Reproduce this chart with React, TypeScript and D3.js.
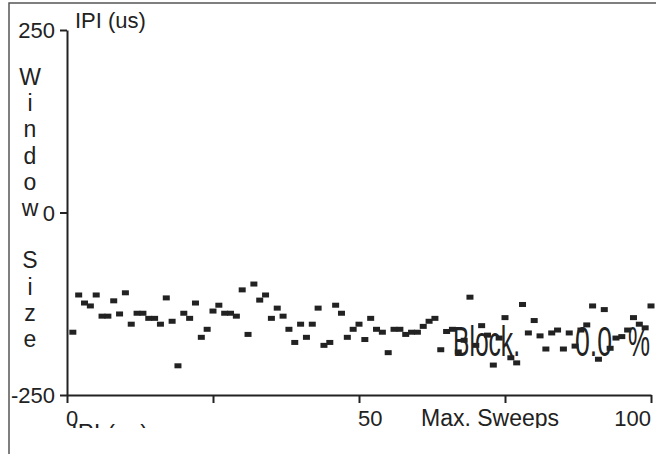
import React, { useRef, useEffect } from "react";
import * as d3 from "d3";

// IPI (us) per sweep, sweeps 1..100
const ipiValues = [
  -164, -113, -124, -128, -113, -142, -142, -121, -139, -110,
  -153, -138, -138, -145, -145, -153, -117, -149, -210, -138,
  -145, -124, -171, -160, -135, -127, -138, -138, -142, -106,
  -167, -98, -120, -113, -145, -131, -142, -160, -178, -153,
  -171, -153, -131, -182, -178, -127, -138, -171, -160, -153,
  -174, -145, -160, -164, -192, -160, -160, -167, -164, -164,
  -156, -149, -145, -188, -163, -160, -191, -175, -116, -182,
  -155, -168, -209, -172, -144, -199, -206, -126, -165, -148,
  -169, -187, -165, -161, -187, -165, -183, -161, -154, -128,
  -201, -133, -186, -172, -170, -161, -144, -153, -158, -128,
];

const yTicks = [-250, 0, 250];
const yTickLabels = ["-250", "0", "250"];
const xTicks = [0, 25, 50, 75, 100];
const xTickLabels = [
  { v: 0, t: "0", anchor: "start" },
  { v: 50, t: "50", anchor: "start" },
  { v: 100, t: "100", anchor: "end" },
];
const yLabelLetters = ["W", "i", "n", "d", "o", "w", "", "S", "i", "z", "e"];

const INK = "#222";
const FONT = "'Liberation Sans', Arial, sans-serif";

function App() {
  const svgRef = useRef<SVGSVGElement>(null);

  useEffect(() => {
    const svg = d3.select(svgRef.current);
    svg.selectAll("*").remove();

    const width = 656;
    const height = 454;

    const x = d3.scaleLinear().domain([0, 100]).range([67, 651]);
    const y = d3.scaleLinear().domain([-250, 250]).range([395, 30]);

    svg.attr("width", width).attr("height", height);

    svg
      .append("defs")
      .append("clipPath")
      .attr("id", "cut")
      .append("rect")
      .attr("x", 0)
      .attr("y", 0)
      .attr("width", width)
      .attr("height", 428);

    // frame
    svg
      .append("path")
      .attr("d", `M9,${height} L9,3 L${width},3`)
      .attr("fill", "none")
      .attr("stroke", "#555")
      .attr("stroke-width", 1.5);

    const g = svg.append("g").attr("clip-path", "url(#cut)");

    // axes
    g.append("g")
      .attr("transform", "translate(67,0)")
      .call(d3.axisLeft(y).tickValues(yTicks).tickSize(7).tickSizeOuter(0).tickFormat(() => ""))
      .call((a) => a.selectAll("line,path").attr("stroke", INK).attr("stroke-width", 2));

    g.append("g")
      .attr("transform", `translate(0,${y(-250)})`)
      .call(d3.axisBottom(x).tickValues(xTicks).tickSize(8).tickSizeOuter(0).tickFormat(() => ""))
      .call((a) => a.selectAll("line,path").attr("stroke", INK).attr("stroke-width", 2));

    // y tick labels
    g.selectAll(".ylab")
      .data(yTicks)
      .join("text")
      .attr("x", 55)
      .attr("y", (d) => y(d) + 8)
      .attr("text-anchor", "end")
      .attr("font-family", FONT)
      .attr("font-size", 22)
      .attr("fill", INK)
      .text((d, i) => yTickLabels[i]);

    // x tick labels
    g.selectAll(".xlab")
      .data(xTickLabels)
      .join("text")
      .attr("x", (d) => x(d.v) + (d.anchor === "start" ? -1 : 0))
      .attr("y", 426)
      .attr("text-anchor", (d) => d.anchor)
      .attr("font-family", FONT)
      .attr("font-size", 22)
      .attr("fill", INK)
      .text((d) => d.t);

    g.append("text")
      .attr("x", 421)
      .attr("y", 426)
      .attr("font-family", FONT)
      .attr("font-size", 23)
      .attr("fill", INK)
      .text("Max. Sweeps");

    g.append("text")
      .attr("x", 71)
      .attr("y", 441)
      .attr("font-family", FONT)
      .attr("font-size", 24)
      .attr("fill", INK)
      .text("IPI (us)");

    // top axis title
    g.append("text")
      .attr("x", 75)
      .attr("y", 28)
      .attr("font-family", FONT)
      .attr("font-size", 22)
      .attr("fill", INK)
      .text("IPI (us)");

    // vertical letters
    g.selectAll(".vl")
      .data(yLabelLetters)
      .join("text")
      .attr("x", 30)
      .attr("y", (d, i) => 85 + i * 26.2)
      .attr("text-anchor", "middle")
      .attr("font-family", FONT)
      .attr("font-size", 23)
      .attr("fill", INK)
      .text((d) => d);

    // data markers
    g.selectAll(".pt")
      .data(ipiValues)
      .join("rect")
      .attr("x", (d, i) => x(i + 1) - 3.5)
      .attr("y", (d) => y(d) - 2.5)
      .attr("width", 7)
      .attr("height", 5)
      .attr("fill", INK);

    // block readout
    const block = [
      { t: "Block.", x0: 453, w: 67 },
      { t: "0.0", x0: 575, w: 37 },
      { t: "%", x0: 628, w: 22 },
    ];
    g.selectAll(".blk")
      .data(block)
      .join("text")
      .attr("x", (d) => d.x0)
      .attr("y", 356)
      .attr("font-family", FONT)
      .attr("font-size", 42)
      .attr("textLength", (d) => d.w)
      .attr("lengthAdjust", "spacingAndGlyphs")
      .attr("fill", INK)
      .text((d) => d.t);
  }, []);

  return (
    <div style={{ position: "absolute", left: 0, top: 0, background: "#fff" }}>
      <svg ref={svgRef} style={{ display: "block" }}></svg>
    </div>
  );
}

export default App;
